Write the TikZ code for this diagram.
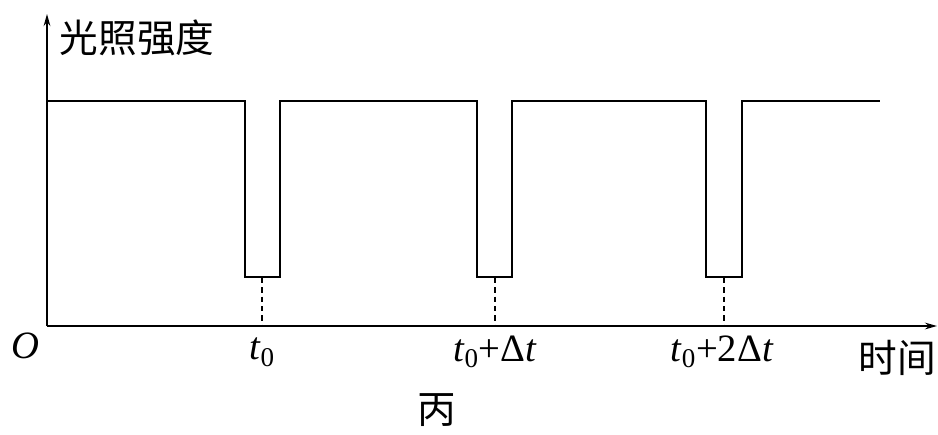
\documentclass[tikz,border=0pt]{standalone}
\usepackage{fontspec}
\setmainfont{Liberation Serif}
\newfontfamily\cjk{Noto Sans CJK SC}
\usetikzlibrary{arrows.meta}

\tikzset{every picture/.style={line width=1.5pt}}
\tikzset{axis arrow/.style={-{Stealth[length=9pt,width=5pt]}}}
\tikzset{dip mark/.style={line width=1.2pt,dash pattern={on 4pt off 3pt}}}
\tikzset{cn label/.style={inner sep=0.75pt,font=\cjk\fontsize{29}{29}\selectfont}}
\tikzset{t label/.style={inner sep=0.75pt,font=\fontsize{29}{29}\selectfont}}
\newcommand{\tz}{\textit{t}\textsubscript{0}}

\begin{document}
\begin{tikzpicture}[x=0.75pt,y=0.75pt,yscale=-1,xscale=1]
	\useasboundingbox (0,0) rectangle (938,435);
	
	%Shape: Axis 2D
	\coordinate (origin) at (47,326);
	\draw [axis arrow] (origin) -- (47,14);
	\draw [axis arrow] (origin) -- (937,326);
	%Straight Lines: light intensity
	\draw [line join=miter] (47,101) -- (245,101) -- (245,277) -- (280,277) -- (280,101)
		-- (477,101) -- (477,277) -- (512,277) -- (512,101)
		-- (706,101) -- (706,277) -- (742,277) -- (742,101) -- (880,101) ;
	%Straight Lines: dashed marks
	\draw [dip mark] (262,278) -- (262,325) ;
	\draw [dip mark] (495,278) -- (495,325) ;
	\draw [dip mark] (724,278) -- (724,325) ;
	
	% Text Node
	\draw (137,38) node [cn label] (ylab) {光照强度};
	% Text Node
	\draw (897,358) node [cn label] (xlab) {时间};
	% Text Node
	\draw (437,410) node [cn label] (fig) {丙};
	% Text Node
	\draw (25,346) node [t label] (o) {\textit{O}};
	% Text Node
	\draw (262,352) node [t label] (ta) {\tz};
	% Text Node
	\draw (495,352) node [t label] (tb) {\tz+Δ\textit{t}};
	% Text Node
	\draw (722,352) node [t label] (tc) {\tz+2Δ\textit{t}};
	
\end{tikzpicture}
\end{document}
